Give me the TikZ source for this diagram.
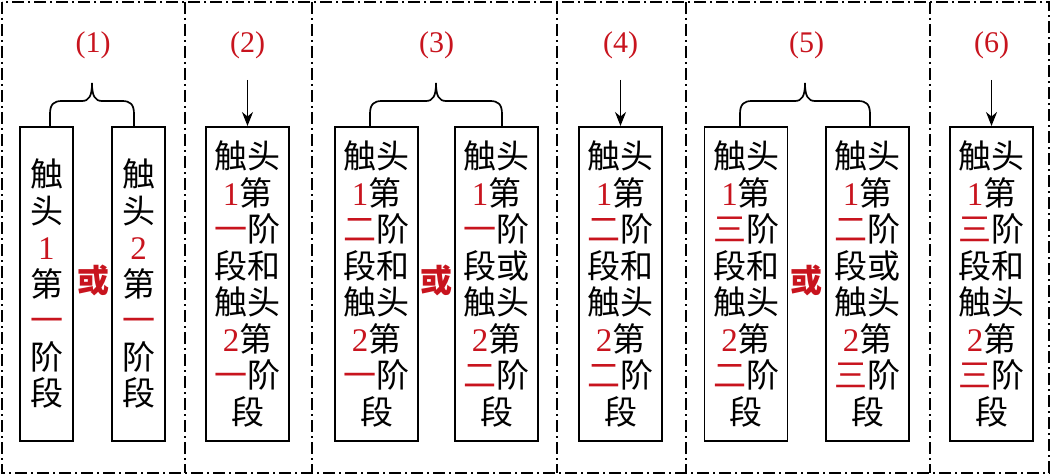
\documentclass[tikz,border=0pt]{standalone}
\usepackage{fontspec}
\usetikzlibrary{arrows.meta}
\setmainfont{Liberation Serif}
\newfontfamily\cjk{Noto Sans CJK SC}
\definecolor{myred}{RGB}{200,20,30}
\newcommand\RR[1]{\textcolor{myred}{#1}}
\newcommand\DD[1]{\textcolor{myred}{\rmfamily #1}}
\begin{document}
\begin{tikzpicture}[x=1pt,y=-1pt,
  sep/.style={line width=1.6pt,dash pattern=on 12pt off 4pt on 2pt off 4pt},
  stagebox/.style={draw,line width=1.7pt,anchor=north,minimum height=314pt,inner sep=0pt,align=center,font=\cjk\fontsize{33}{36.5}\selectfont},
  narrow/.style={stagebox,minimum width=53pt},
  wide/.style={stagebox,minimum width=83pt},
  lab/.style={text=myred,font=\rmfamily\fontsize{30}{30}\selectfont},
  orr/.style={text=myred,font=\cjk\bfseries\fontsize{32}{32}\selectfont},
  arr/.style={-{Stealth[length=14pt,width=11pt]},line width=1.7pt},
  br/.style={line width=1.7pt}]
\useasboundingbox (0,0) rectangle (1052,476);
\draw[sep] (2,2) rectangle (1049,473);
\foreach \x in {185,312,557,686,930} \draw[sep] (\x,2) -- (\x,473);
% column 1
\node[narrow] (b1a) at (46.5,126) {触\\头\\\DD{1}\\第\\\RR{一}\\阶\\段};
\node[narrow] (b1b) at (138.5,126) {触\\头\\\DD{2}\\第\\\RR{一}\\阶\\段};
\node[orr] (o1) at (93,280) {或};
\node[lab] (l1) at (93,45) {(1)};
% column 2
\node[wide] (b2) at (247.5,126) {触头\\\DD{1}第\\\RR{一}阶\\段和\\触头\\\DD{2}第\\\RR{一}阶\\段};
\node[lab] (l2) at (247.5,45) {(2)};
\coordinate (a2) at (247.5,80);
\draw[arr] (a2) -- (b2.north);
% column 3
\node[wide] (b3a) at (376.5,126) {触头\\\DD{1}第\\\RR{二}阶\\段和\\触头\\\DD{2}第\\\RR{一}阶\\段};
\node[wide] (b3b) at (496.5,126) {触头\\\DD{1}第\\\RR{一}阶\\段或\\触头\\\DD{2}第\\\RR{二}阶\\段};
\node[orr] (o3) at (436.5,280) {或};
\node[lab] (l3) at (436.5,45) {(3)};
% column 4
\node[wide] (b4) at (620.5,126) {触头\\\DD{1}第\\\RR{二}阶\\段和\\触头\\\DD{2}第\\\RR{二}阶\\段};
\node[lab] (l4) at (620.5,45) {(4)};
\coordinate (a4) at (620.5,80);
\draw[arr] (a4) -- (b4.north);
% column 5
\node[wide] (b5a) at (746,126) {触头\\\DD{1}第\\\RR{三}阶\\段和\\触头\\\DD{2}第\\\RR{二}阶\\段};
\node[wide] (b5b) at (867.5,126) {触头\\\DD{1}第\\\RR{二}阶\\段或\\触头\\\DD{2}第\\\RR{三}阶\\段};
\node[orr] (o5) at (806.5,280) {或};
\node[lab] (l5) at (806.5,45) {(5)};
% column 6
\node[wide] (b6) at (991.5,126) {触头\\\DD{1}第\\\RR{三}阶\\段和\\触头\\\DD{2}第\\\RR{三}阶\\段};
\node[lab] (l6) at (991.5,45) {(6)};
\coordinate (a6) at (991.5,80);
\draw[arr] (a6) -- (b6.north);
% braces
\foreach \xa/\xb in {50/134, 370/502, 740/870}{
  \pgfmathsetmacro\m{(\xa+\xb)/2}
  \draw[br] (\xa,126) -- (\xa,114) .. controls (\xa,104) and (\xa+4,101) .. (\xa+12,101)
    -- (\m-10,101) .. controls (\m-3,101) and (\m,96) .. (\m,83)
    .. controls (\m,96) and (\m+3,101) .. (\m+10,101)
    -- (\xb-12,101) .. controls (\xb-4,101) and (\xb,104) .. (\xb,114) -- (\xb,126);
}
\end{tikzpicture}
\end{document}
